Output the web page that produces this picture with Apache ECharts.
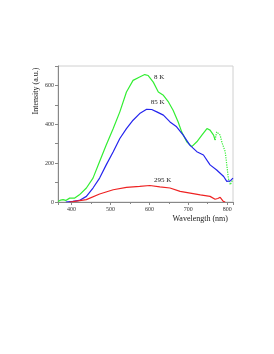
<!DOCTYPE html>
<html><head><meta charset="utf-8">
<script src="https://cdn.jsdelivr.net/npm/echarts@6/dist/echarts.min.js"></script>
<style>html,body{margin:0;padding:0;background:#fff}#c{width:274px;height:354px}</style>
</head><body><div id="c"></div>
<script>
// ---- data ----
var greenX = [365,372,378,385,395,408,420,438,455,472,489,507,524,541,558,575,588,597,610,623,636,649,661,674,683,696,709,713,722,735,748,756,765,769];
var greenY = [3,10,12,8,20,20,37,72,123,208,293,378,464,566,626,643,656,651,617,566,549,515,472,412,361,310,285,280,310,344,378,370,344,319];
var greenDotX = [769,773,778,782,786,790,795,799,803,808,812,815];
var greenDotY = [319,361,370,344,310,313,259,191,123,89,106,115];
var blueX = [385,403,420,438,455,472,489,507,524,541,558,575,593,606,619,636,653,670,687,704,722,739,756,773,791,799,808,815];
var blueY = [0,3,8,29,72,123,191,259,327,378,421,455,477,476,464,447,412,387,344,293,259,242,191,165,131,106,109,123];
var redX = [395,403,438,472,507,541,575,601,627,653,679,705,731,756,769,776,782,790,795];
var redY = [0,2,12,41,63,75,80,85,78,72,55,46,37,29,14,18,24,3,0];
var seriesNames = ['8 K','85 K','295 K'];
var labelPos = [[625,643],[621,515],[634,113]];
var yTickLabels = [0,200,400,600];

function pairs(xs, ys){ return xs.map(function(x,i){return [x, ys[i]];}); }
var serif = 'Liberation Serif';
function mp(i){
  return {symbol:'circle',symbolSize:0,silent:true,
    label:{show:true,position:'inside',formatter:seriesNames[i],color:'#222',fontFamily:serif,fontSize:7},
    data:[{coord:labelPos[i]}]};
}
var chart = echarts.init(document.getElementById('c'));
chart.setOption({
  animation:false,
  grid:{left:58,right:41,top:66,bottom:152,show:true,borderColor:'#d0d0d0',borderWidth:1},
  xAxis:{type:'value',min:365,max:815,splitNumber:5,
    axisLine:{lineStyle:{color:'#888'}},
    axisTick:{show:true,length:3,lineStyle:{color:'#888'}},
    minorTick:{show:true,splitNumber:2,length:2,lineStyle:{color:'#888'}},
    splitLine:{show:false},
    axisLabel:{showMinLabel:false,showMaxLabel:false,fontFamily:serif,fontSize:6,color:'#333',margin:4}},
  yAxis:{type:'value',min:0,max:700,interval:100,
    axisLine:{show:true,lineStyle:{color:'#888'}},
    axisTick:{show:true,length:3,lineStyle:{color:'#888'}},
    splitLine:{show:false},
    axisLabel:{fontFamily:serif,fontSize:6,color:'#333',margin:4,
      formatter:function(v){return yTickLabels.indexOf(v)>=0?String(v):'';}}},
  graphic:[
    {type:'text',x:36,y:91,rotation:Math.PI/2,style:{text:'Intensity (a.u.)',font:'8px "Liberation Serif"',fill:'#222',align:'center',verticalAlign:'middle'}},
    {type:'text',x:228,y:219,style:{text:'Wavelength (nm)',font:'8px "Liberation Serif"',fill:'#222',align:'right',verticalAlign:'middle'}}
  ],
  series:[
    {type:'line',data:pairs(greenX,greenY),showSymbol:false,lineStyle:{color:'#33ee33',width:1.2},itemStyle:{color:'#33ee33'},markPoint:mp(0)},
    {type:'line',data:pairs(greenDotX,greenDotY),showSymbol:false,lineStyle:{color:'#33ee33',width:1.2,type:'dotted'}},
    {type:'line',data:pairs(blueX,blueY),showSymbol:false,lineStyle:{color:'#2424ee',width:1.2},itemStyle:{color:'#2424ee'},markPoint:mp(1)},
    {type:'line',data:pairs(redX,redY),showSymbol:false,lineStyle:{color:'#ee2222',width:1.2},itemStyle:{color:'#ee2222'},markPoint:mp(2)}
  ]
});
</script></body></html>
